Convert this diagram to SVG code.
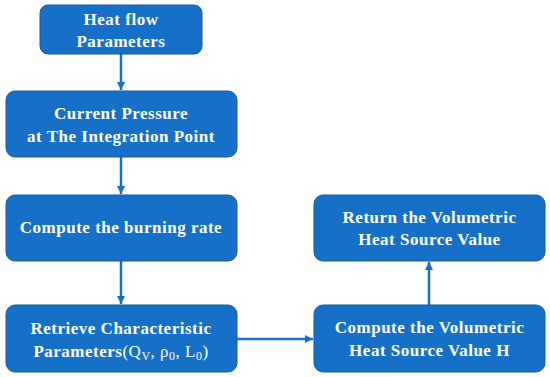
<svg xmlns="http://www.w3.org/2000/svg" width="550" height="377" viewBox="0 0 550 377">
<style>
.box{fill:#1770c8;stroke:#1f5a96;stroke-width:1}
.t{font-family:"Liberation Serif","Times New Roman",serif;font-weight:bold;font-size:17px;fill:#fff;text-anchor:middle;letter-spacing:0.5px}
.n{font-weight:normal}
.c{stroke:#1770c8;stroke-width:2.5;fill:none;marker-end:url(#ah)}
</style>
<defs>
<marker id="ah" markerWidth="10" markerHeight="10" refX="8" refY="5" orient="auto" markerUnits="userSpaceOnUse">
<path d="M0,1 L8,5 L0,9 Z" fill="#1770c8"/>
</marker>
</defs>
<rect width="550" height="377" fill="#fff"/>
<g id="connectors">
<path class="c" d="M121,54 V90"/>
<path class="c" d="M121,157 V194"/>
<path class="c" d="M121,261 V304"/>
<path class="c" d="M237,339 H313"/>
<path class="c" d="M429,305 V262"/>
</g>
<g id="n1"><rect class="box" x="40" y="5" width="162" height="49" rx="8"/>
<text class="t" x="121" y="24.5">Heat flow</text><text class="t" x="121" y="47">Parameters</text></g>
<g id="n2"><rect class="box" x="6" y="91" width="231" height="66" rx="9"/>
<text class="t" x="121" y="119">Current Pressure</text><text class="t" x="121" y="142">at The Integration Point</text></g>
<g id="n3"><rect class="box" x="6" y="195" width="231" height="66" rx="9"/>
<text class="t" x="121" y="233">Compute the burning rate</text></g>
<g id="n4"><rect class="box" x="6" y="305" width="231" height="67" rx="9"/>
<text class="t" x="121" y="334">Retrieve Characteristic</text>
<text class="t" x="121" y="357">Parameters<tspan class="n">(Q<tspan font-size="12" dy="3">V</tspan><tspan dy="-3">, ρ</tspan><tspan font-size="12" dy="3">0</tspan><tspan dy="-3">, L</tspan><tspan font-size="12" dy="3">0</tspan><tspan dy="-3">)</tspan></tspan></text></g>
<g id="n5"><rect class="box" x="314" y="195" width="231" height="66" rx="9"/>
<text class="t" x="429.5" y="223">Return the Volumetric</text><text class="t" x="429.5" y="245">Heat Source Value</text></g>
<g id="n6"><rect class="box" x="314" y="305" width="231" height="67" rx="9"/>
<text class="t" x="429.5" y="333">Compute the Volumetric</text><text class="t" x="429.5" y="356">Heat Source Value H</text></g>
</svg>
